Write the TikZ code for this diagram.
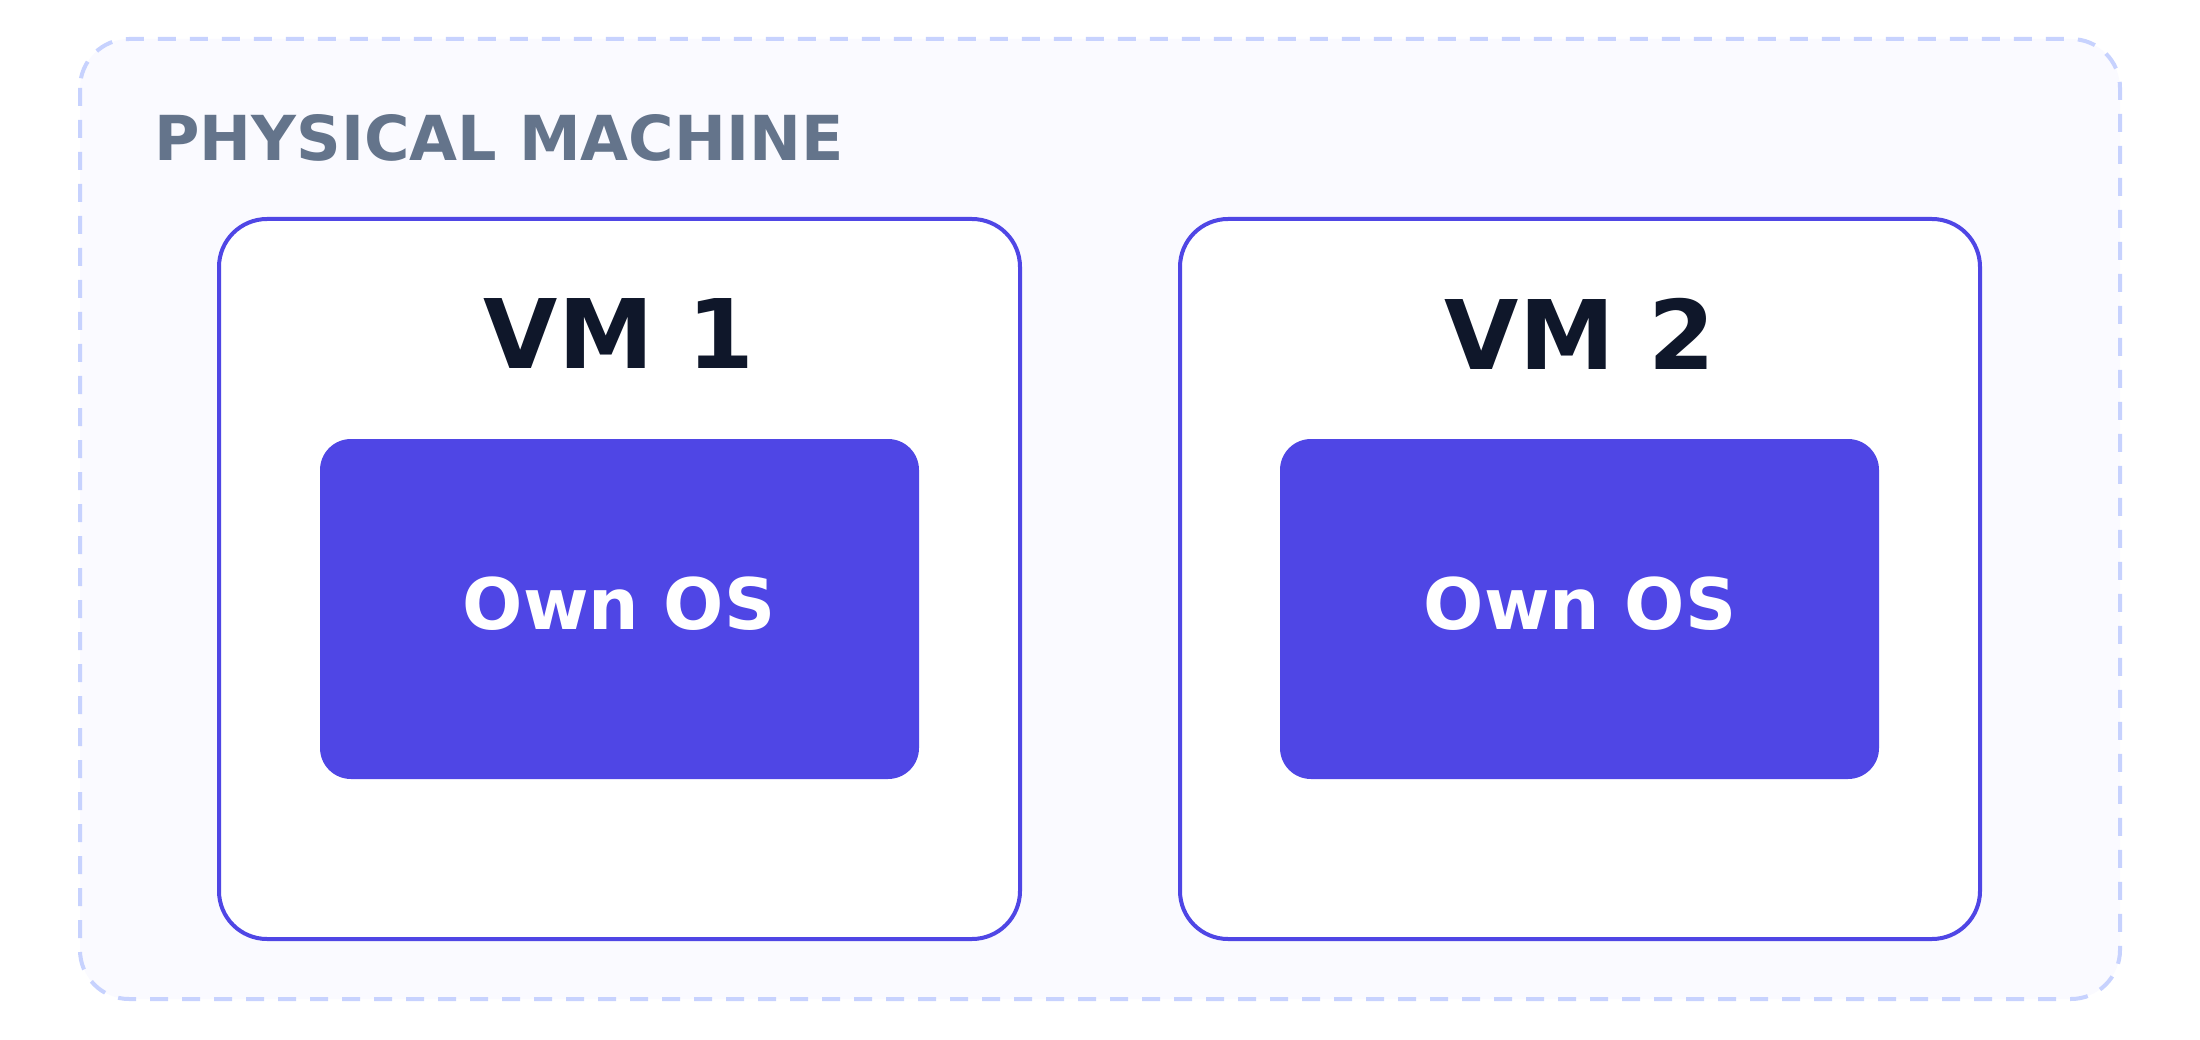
\documentclass[tikz,border=0pt]{standalone}
\usepackage{fontspec}
\setmainfont{DejaVu Sans}
\usetikzlibrary{positioning}
\definecolor{indigo}{HTML}{4F46E5}
\definecolor{ink}{HTML}{0F172A}
\definecolor{slate}{HTML}{64748B}
\definecolor{haze}{HTML}{FAFAFF}
\definecolor{dashblue}{HTML}{C7D2FE}
\tikzset{
  vmbox/.style={draw=indigo, line width=4pt, fill=white, rounded corners=48pt},
  osbox/.style={fill=indigo, rounded corners=31pt},
  vmtitle/.style={text=ink, font=\fontsize{96}{110}\selectfont\bfseries},
  ostext/.style={text=white, font=\fontsize{71}{84}\selectfont\bfseries}
}
\begin{document}
\begin{tikzpicture}[x=1pt, y=-1pt]
  \useasboundingbox (0,0) rectangle (2200,1040);
  % Physical machine frame
  \draw[dashblue, fill=haze, line width=4pt, dash pattern=on 18pt off 14pt, rounded corners=49pt] (80,39) rectangle (2120,999);
  \node[anchor=west, text=slate, font=\fontsize{62}{74}\selectfont\bfseries] (pm) at (151,138) {PHYSICAL MACHINE};

  % VM 1
  \draw[vmbox] (219,219) rectangle (1020,939);
  \node[vmtitle] (vm1) at (619,334) {VM 1};
  \fill[osbox] (320,439) rectangle (919,779);
  \node[ostext] (os1) at (619,604) {Own OS};

  % VM 2
  \draw[vmbox] (1180,219) rectangle (1980,939);
  \node[vmtitle] (vm2) at (1580,334) {VM 2};
  \fill[osbox] (1280,439) rectangle (1879,779);
  \node[ostext] (os2) at (1580,604) {Own OS};
\end{tikzpicture}
\end{document}
